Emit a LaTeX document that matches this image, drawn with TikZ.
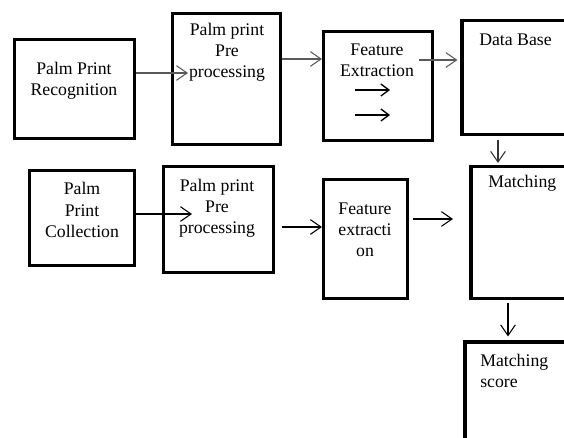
\documentclass[tikz,border=0pt]{standalone}
\usepackage{fontspec}
\setmainfont{Liberation Serif}
\usetikzlibrary{arrows.meta,calc}

\begin{document}
\begin{tikzpicture}[x=0.75pt,y=-0.75pt,
    box/.style 2 args={draw,line width=2.3pt,rectangle,inner sep=0pt,
        minimum width=#1*0.75pt,minimum height=#2*0.75pt},
    txt/.style={font=\fontsize{13.3}{15.8}\selectfont,align=center,inner sep=0pt},
    arr/.style={draw=black!65,line width=0.8pt,-{Straight Barb[length=8pt,width=11pt]}}]
    \path[use as bounding box,clip] (0,0) rectangle (564,438);

    % first row
    \node[box={120}{99}] (recog) at (74.5,89) {};
    \node[box={108}{131}] (pre1) at (226.5,79) {};
    \node[box={109}{109}] (feat1) at (378,86) {};
    \node[box={140}{114}] (db) at (532,77.5) {};
    \node[txt] (recog-t) at (74,81) {Palm Print\\Recognition};
    \node[txt] (pre1-t) at (227,52) {Palm print\\Pre\\processing};
    \node[txt] (feat1-t) at (377,60.5) {Feature\\Extraction};
    \node[txt,anchor=west] (db-t) at (479,40) {Data Base};
    \draw[line width=1pt,-{Straight Barb[length=6pt,width=9pt]}] (355,90) -- (390,90);
    \draw[line width=1pt,-{Straight Barb[length=6pt,width=9pt]}] (355,115) -- (390,115);

    % second row
    \node[box={105}{95}] (coll) at (82,218) {};
    \node[box={110}{106}] (pre2) at (218.5,219.5) {};
    \node[box={84}{119}] (feat2) at (365.5,239) {};
    \node[box={140}{132}] (match) at (541,232.5) {};
    \node[box={140}{130}] (score) at (535,407) {};
    \node[txt] (coll-t) at (82,210) {Palm\\Print\\Collection};
    \node[txt] (pre2-t) at (217,208) {Palm print\\Pre\\processing};
    \node[txt] (feat2-t) at (365,230) {Feature\\extracti\\on};
    \node[txt,anchor=west] (match-t) at (488,183) {Matching};
    \node[txt,anchor=west,align=left] (score-t) at (480,371) {Matching\\score};

    % connectors
    \draw[arr] (recog.east |- 0,73) -- (188,73);
    \draw[arr] (pre1.east |- 0,59) -- (feat1.west |- 0,59);
    \draw[arr] (419,60) -- ($(db.west |- 0,60)+(-3,0)$);
    \draw[arr,draw=black!80] (498,140) -- ($(match.north -| 498,0)+(0,-2)$);
    \draw[arr,draw=black] (coll.east |- 0,214) -- (192,214);
    \draw[arr,draw=black] ($(pre2.east |- 0,227)+(7,0)$) -- (feat2.west |- 0,227);
    \draw[arr,draw=black] (413,219) -- (453,219);
    \draw[arr,draw=black] (508,303) -- ($(score.north -| 508,0)+(0,-4)$);
\end{tikzpicture}
\end{document}
